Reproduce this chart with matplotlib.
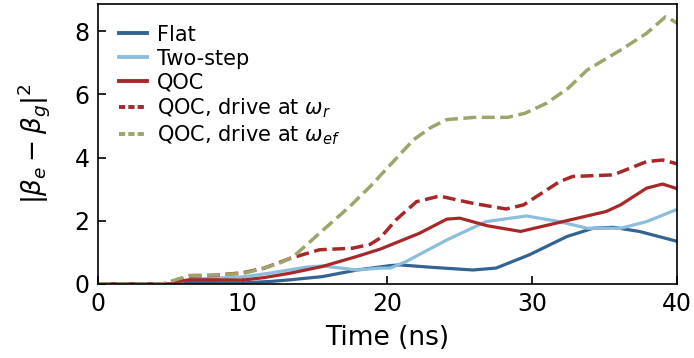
import matplotlib.pyplot as plt
from matplotlib.lines import Line2D

# Datos (tiempo en ns)
t_flat = [0, 5, 6, 8, 10, 12, 13.3, 15.5, 17.9, 20.2, 20.9, 22.9, 25.9, 27.5,
          29.8, 32.4, 34.2, 35.6, 37.4, 39.9, 40]
flat = [0, 0.0, 0.04, 0.04, 0.03, 0.08, 0.13, 0.23, 0.44, 0.58, 0.6, 0.53,
        0.44, 0.5, 0.92, 1.5, 1.76, 1.79, 1.66, 1.36, 1.35]

t_two = [0, 5, 5.5, 6.4, 8, 10, 12, 14.4, 15.5, 17.9, 19.5, 20.2, 21.3, 24.1,
         26.8, 29.6, 31.9, 33.8, 36.1, 37.9, 39.9, 40]
two = [0, 0.0, 0.05, 0.15, 0.18, 0.22, 0.35, 0.53, 0.57, 0.44, 0.5, 0.5,
       0.71, 1.39, 1.97, 2.15, 1.97, 1.76, 1.76, 1.97, 2.34, 2.35]

t_qoc = [0, 5, 5.6, 6.4, 8, 10, 11.5, 13.3, 15.5, 17.9, 19.5, 20.2, 22.2,
         24.1, 25, 26.9, 29.2, 32.1, 35.1, 36.1, 37.9, 39, 39.9, 40]
qoc = [0, 0.0, 0.08, 0.13, 0.13, 0.12, 0.2, 0.34, 0.55, 0.87, 1.1, 1.23,
       1.6, 2.05, 2.08, 1.84, 1.66, 1.97, 2.29, 2.5, 3.03, 3.16, 3.03, 3.0]

t_qoc_r = [0, 4.5, 5.5, 6.4, 8, 10, 11.5, 13.3, 15.3, 17.6, 18.8, 19.5, 20.6,
           22, 23.6, 25.9, 28.2, 29.4, 31.9, 32.8, 35.6, 37.9, 39, 39.6, 40]
qoc_r = [0, 0.0, 0.12, 0.25, 0.27, 0.35, 0.5, 0.81, 1.08, 1.13, 1.25, 1.45,
         2.03, 2.6, 2.78, 2.55, 2.37, 2.5, 3.24, 3.4, 3.45, 3.87, 3.92,
         3.85, 3.8]

t_qoc_ef = [0, 4.5, 5.5, 6.4, 8, 10, 11.5, 12.5, 13.5, 15.3, 17.4, 18.8,
            20.2, 21.8, 23, 24.1, 26, 28.3, 29.5, 31, 32.5, 33.8, 35, 36.1,
            37.9, 39.2, 39.5, 40]
qoc_ef = [0, 0.0, 0.15, 0.27, 0.28, 0.33, 0.5, 0.65, 0.86, 1.6, 2.45, 3.08,
          3.77, 4.56, 4.95, 5.2, 5.27, 5.27, 5.4, 5.72, 6.2, 6.77, 7.1, 7.4,
          7.93, 8.45, 8.4, 8.25]

series = [
    (t_flat, flat, "Flat", "#336491", "-"),
    (t_two, two, "Two-step", "#8bbedd", "-"),
    (t_qoc, qoc, "QOC", "#a8282a", "-"),
    (t_qoc_r, qoc_r, r"QOC, drive at $\omega_r$", "#a8282a", "--"),
    (t_qoc_ef, qoc_ef, r"QOC, drive at $\omega_{ef}$", "#9ea46a", "--"),
]

fig = plt.figure(figsize=(6.94, 3.58), dpi=100)
ax = fig.add_axes([0.141, 0.207, 0.8345, 0.782])

handles = []
for t, y, label, color, ls in series:
    lw = 2.5 if ls == "--" else 2.3
    ax.plot(t, y, ls, color=color, linewidth=lw)
    # en la leyenda los discontinuos se ven con guiones cortos
    hls = (0, (1.6, 0.8)) if ls == "--" else "-"
    handles.append(Line2D([], [], color=color, linewidth=2.8, linestyle=hls,
                          label=label))

ax.set_xlim(0, 40)
ax.set_ylim(0, 8.86)
ax.set_xticks([0, 10, 20, 30, 40])
ax.set_yticks([0, 2, 4, 6, 8])
ax.tick_params(direction="in", labelsize=17, length=6, width=1.2, pad=6)
for s in ax.spines.values():
    s.set_linewidth(1.2)
ax.set_xlabel("Time (ns)", fontsize=19, labelpad=6)
ax.set_ylabel(r"$|\beta_e - \beta_g|^2$", fontsize=19, labelpad=16)

ax.legend(handles=handles, loc="upper left", frameon=False, fontsize=15,
          handlelength=1.35, labelspacing=0.18, borderaxespad=0.6,
          handletextpad=0.5)

plt.savefig("out.png", dpi=100)
plt.close()
